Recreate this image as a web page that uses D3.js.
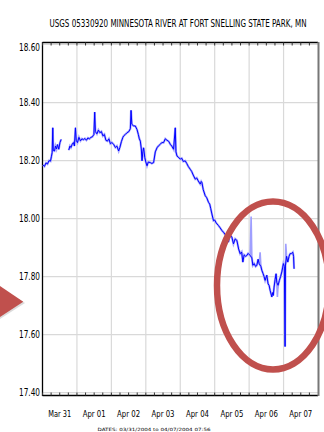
<!DOCTYPE html>
<html>
<head>
<meta charset="utf-8">
<script src="https://cdn.jsdelivr.net/npm/d3@7"></script>
<style>
  html, body { margin: 0; padding: 0; background: #fff; }
  svg { display: block; }
  text { font-family: "DejaVu Sans Condensed", "DejaVu Sans", sans-serif; fill: #000; }
</style>
</head>
<body>
<svg id="chart" width="324" height="432"></svg>
<script>
// Gage height record, Minnesota River at Fort Snelling, hours since 2004-03-31 00:00
const titleText = "USGS 05330920 MINNESOTA RIVER AT FORT SNELLING STATE PARK, MN";
const datesText = "DATES: 03/31/2004 to 04/07/2004 07:56";
const startDate = new Date(2004, 2, 31, 0, 0);
const endDate = new Date(2004, 3, 8, 0, 0);
const yTicks = [17.4, 17.6, 17.8, 18.0, 18.2, 18.4, 18.6];
const dayLabels = ["Mar 31", "Apr 01", "Apr 02", "Apr 03", "Apr 04", "Apr 05", "Apr 06", "Apr 07"];

const hours = [
  0.35, 1.39, 2.43, 3.48, 4.52, 5.57, 6.26, 6.75, 7.17, 7.51, 8.35, 9.04, 9.74, 10.44, 11.34, 12.17, 13.01,
  15.5,
  18.30, 19.13, 19.83, 20.66, 21.57, 22.26, 22.96, 23.51, 24.35, 25.39, 26.44, 27.48, 28.52, 29.57, 30.61,
  31.65, 32.70, 33.74, 34.78, 35.83, 36.38, 36.87, 37.91, 38.96, 40.00, 41.05, 42.09, 43.13, 44.18, 45.22,
  46.27, 47.31, 48.35, 49.60, 50.79, 51.83, 53.08, 53.92, 54.96, 56.00, 56.56, 57.74, 58.92, 60.18, 61.22,
  61.71, 62.26, 63.31, 64.70, 65.88, 66.79, 67.48, 68.18, 68.87, 69.36, 69.92, 70.47, 71.31, 72.00, 72.84,
  73.74, 75.14, 76.18, 77.43, 78.61, 79.80, 80.70, 82.09, 83.13, 84.39, 85.57, 86.75, 88.00, 89.05, 90.09,
  91.34, 92.53, 93.01, 93.71, 94.62, 96.01, 97.05, 98.09, 99.49, 100.53, 101.57, 102.96, 104.01, 105.05,
  106.44, 107.48, 108.53, 109.92, 110.62, 111.11, 112.01, 113.40, 114.45, 115.70, 116.53, 117.23, 118.06,
  119.17, 120.01, 121.05, 122.65, 123.83, 125.02, 126.13, 127.31, 128.49, 129.61, 130.44, 131.97, 133.09,
  134.27, 135.45, 136.70, 137.75, 138.79, 139.63, 140.53, 141.57, 142.41, 143.31, 144.71, 145.89, 146.58,
  147.49, 148.53, 149.37, 150.27, 150.97, 152.22, 152.84, 153.75, 154.44, 155.14, 156.32, 157.23, 157.92,
  158.62, 159.31, 159.80, 160.36, 160.84, 161.40, 162.10, 162.79, 163.28, 164.18, 165.08, 165.92, 166.76,
  167.31, 167.87, 168.56, 169.05, 169.33, 170.10, 170.93, 171.83, 172.53, 173.57, 174.41, 174.97, 175.32
];
const gageHeight = [
  18.185, 18.180, 18.192, 18.188, 18.200, 18.198, 18.215, 18.228, 18.313, 18.235, 18.233, 18.250, 18.240, 18.255, 18.239, 18.262, 18.273,
  null,
  18.236, 18.250, 18.245, 18.256, 18.262, 18.250, 18.313, 18.270, 18.262, 18.280, 18.268, 18.275, 18.272, 18.276, 18.270,
  18.278, 18.275, 18.280, 18.282, 18.290, 18.367, 18.300, 18.292, 18.305, 18.296, 18.300, 18.285, 18.290, 18.270, 18.267,
  18.275, 18.258, 18.262, 18.256, 18.245, 18.250, 18.233, 18.245, 18.265, 18.280, 18.285, 18.290, 18.296, 18.300, 18.310,
  18.373, 18.325, 18.320, 18.319, 18.307, 18.290, 18.275, 18.267, 18.240, 18.199, 18.230, 18.244, 18.210, 18.195, 18.182,
  18.195, 18.193, 18.190, 18.193, 18.230, 18.244, 18.250, 18.256, 18.262, 18.262, 18.275, 18.270, 18.266, 18.256, 18.250,
  18.239, 18.313, 18.230, 18.216, 18.212, 18.205, 18.208, 18.197, 18.199, 18.190, 18.180, 18.170, 18.162, 18.150,
  18.136, 18.140, 18.130, 18.119, 18.128, 18.124, 18.100, 18.079, 18.072, 18.056, 18.050, 18.035, 18.016,
  17.993, 17.995, 17.985, 17.976, 17.968, 17.959, 17.953, 17.945, 17.936, 17.919, 17.945, 17.936, 17.913,
  17.930, 17.925, 17.895, 17.879, 17.885, 17.850, 17.875, 17.870, 17.873, 17.880, 17.873, 17.865, 17.839,
  17.845, 17.835, 17.839, 17.860, 17.845, 17.835, 17.822, 17.810, 17.800, 17.787, 17.805, 17.775, 17.770,
  17.753, 17.740, 17.730, 17.745, 17.735, 17.764, 17.790, 17.810, 17.780, 17.770, 17.787, 17.800, 17.816,
  17.830, 17.845, 17.835, 17.559, 17.840, 17.870, 17.850, 17.870, 17.879, 17.880, 17.884, 17.870, 17.827
];

// brief excursions shown in a lighter blue
const spikeHours = [
  [144.71, 145.40, 145.89],
  [150.97, 151.66, 152.22],
  [163.28, 163.69, 164.18],
  [169.33, 169.54, 170.10]
];
const spikeValues = [
  [17.873, 18.007, 17.865],
  [17.845, 17.884, 17.835],
  [17.780, 17.730, 17.770],
  [17.840, 17.913, 17.870]
];

const svg = d3.select("#chart");
const plotLeft = 42.5, plotRight = 318, plotTop = 44.5, plotBottom = 392.7;
const frameTop = 42.5, frameBottom = 395.5;
const hourMs = 3600 * 1000;
const toDate = h => new Date(startDate.getTime() + h * hourMs);

const x = d3.scaleTime().domain([startDate, endDate]).range([plotLeft, plotRight]);
const y = d3.scaleLinear().domain([17.4, 18.6]).range([plotBottom, plotTop]);

// gridlines
const grid = svg.append("g");
grid.selectAll("line.h").data(yTicks).join("line")
  .attr("x1", plotLeft).attr("x2", plotRight)
  .attr("y1", d => y(d)).attr("y2", d => y(d))
  .attr("stroke", "#d9d9d9").attr("stroke-width", 1.2);
const dayTicks = d3.timeDay.range(startDate, endDate);
grid.selectAll("line.v").data(dayTicks.slice(1)).join("line")
  .attr("x1", d => x(d)).attr("x2", d => x(d))
  .attr("y1", frameTop).attr("y2", frameBottom)
  .attr("stroke", "#d9d9d9").attr("stroke-width", 1.2);

// frame
svg.append("line").attr("x1", plotLeft).attr("x2", plotRight).attr("y1", frameTop).attr("y2", frameTop)
  .attr("stroke", "#000").attr("stroke-width", 1.3);
svg.append("line").attr("x1", plotLeft).attr("x2", plotRight).attr("y1", frameBottom).attr("y2", frameBottom)
  .attr("stroke", "#000").attr("stroke-width", 1.3);
svg.append("line").attr("x1", plotLeft).attr("x2", plotLeft).attr("y1", frameTop - 0.5).attr("y2", frameBottom + 0.5)
  .attr("stroke", "#000").attr("stroke-width", 1.3);
svg.append("line").attr("x1", plotRight + 0.5).attr("x2", plotRight + 0.5).attr("y1", frameTop - 0.5).attr("y2", frameBottom + 0.5)
  .attr("stroke", "#777").attr("stroke-width", 2);

// six-hour minor ticks on top and bottom edges
const minor = d3.timeHour.every(6).range(startDate, endDate);
svg.append("g").selectAll("line").data(minor).join("line")
  .attr("x1", d => x(d)).attr("x2", d => x(d))
  .attr("y1", frameTop).attr("y2", frameTop + 3)
  .attr("stroke", "#333").attr("stroke-width", 1);
svg.append("g").selectAll("line").data(minor).join("line")
  .attr("x1", d => x(d)).attr("x2", d => x(d))
  .attr("y1", frameBottom - 3).attr("y2", frameBottom)
  .attr("stroke", "#333").attr("stroke-width", 1);

// y labels
svg.append("g").selectAll("text").data(yTicks).join("text")
  .attr("x", 40).attr("y", d => y(d) + (d === 18.6 ? 6.5 : 3.5))
  .attr("text-anchor", "end")
  .attr("font-size", 10)
  .attr("textLength", 21).attr("lengthAdjust", "spacingAndGlyphs")
  .text(d => d.toFixed(2));

// day labels at noon
svg.append("g").selectAll("text").data(dayTicks).join("text")
  .attr("x", d => x(d3.timeHour.offset(d, 12)))
  .attr("y", 416.5)
  .attr("text-anchor", "middle")
  .attr("font-size", 9.5)
  .attr("textLength", 23).attr("lengthAdjust", "spacingAndGlyphs")
  .text((d, i) => dayLabels[i]);

// title: narrow, tall lettering
svg.append("text")
  .attr("transform", "translate(178,26.5) scale(1,1.55)")
  .attr("text-anchor", "middle")
  .attr("font-size", 7).attr("textLength", 257).attr("lengthAdjust", "spacingAndGlyphs")
  .text(titleText);
// date range squeezed into the strip under the axis labels
svg.append("text")
  .attr("transform", "translate(154,431.3) scale(1,0.62)")
  .attr("text-anchor", "middle")
  .attr("font-size", 7).attr("textLength", 113).attr("lengthAdjust", "spacingAndGlyphs")
  .text(datesText);

// data line
const series = hours.map((h, i) => ({ t: toDate(h), v: gageHeight[i] }));
const line = d3.line().defined(d => d.v !== null).x(d => x(d.t)).y(d => y(d.v));
svg.append("path").datum(series).attr("d", line)
  .attr("fill", "none").attr("stroke", "#a8a8ff").attr("stroke-width", 2.2);
svg.append("g").selectAll("path").data(spikeHours).join("path")
  .attr("d", (hs, k) => line(hs.map((h, i) => ({ t: toDate(h), v: spikeValues[k][i] }))))
  .attr("fill", "none").attr("stroke", "#9f9fff").attr("stroke-width", 1.6);
svg.append("path").datum(series).attr("d", line)
  .attr("fill", "none").attr("stroke", "#0000ff").attr("stroke-width", 1);

// annotation: arrow and ellipse
svg.append("path").attr("d", "M0,288 L25,303 L0,319 Z").attr("fill", "#999").attr("opacity", 0.35);
svg.append("path").attr("d", "M0,286 L23.3,301.7 L0,317 Z").attr("fill", "#c0504d");
svg.append("ellipse").attr("cx", 273).attr("cy", 285.5).attr("rx", 56).attr("ry", 84)
  .attr("fill", "none").attr("stroke", "#c0504d").attr("stroke-width", 6.5);
</script>
</body>
</html>
